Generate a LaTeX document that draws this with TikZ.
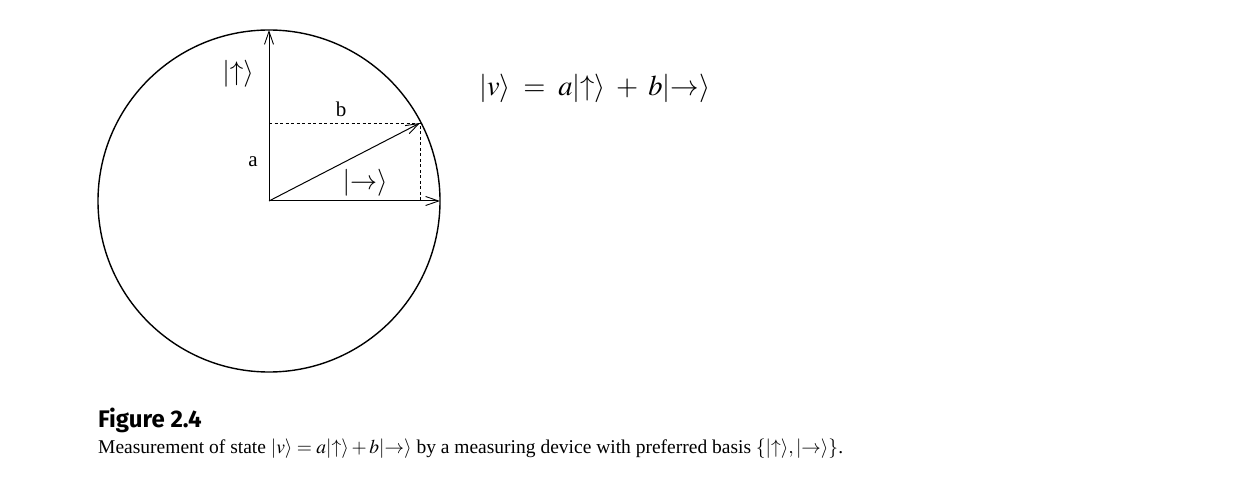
\documentclass[tikz,border=0pt]{standalone}
\usepackage{mathptmx}
\usepackage{fontspec}
\setmainfont{Liberation Serif}
\newfontfamily\figfont{Fira Sans}
\usetikzlibrary{arrows.meta}
\tikzset{
  vec/.style={line width=1pt,-{Straight Barb[length=13pt,width=9pt,line width=0.9pt]}},
  helper/.style={line width=0.9pt,dash pattern=on 3pt off 2.5pt},
  lbl/.style={inner sep=0pt,font=\fontsize{27}{31}\selectfont},
  letter/.style={inner sep=0pt,font=\fontsize{21}{25}\selectfont},
  captxt/.style={inner sep=0pt,anchor=base west,font=\fontsize{19.5}{23}\selectfont}
}
\begin{document}
\begin{tikzpicture}[x=1pt,y=-1pt]
\useasboundingbox (0,0) rectangle (1247,494);
\coordinate (o) at (269,201);
\coordinate (up) at (269,30);
\coordinate (rt) at (440,201);
\coordinate (v) at (420,123);
\coordinate (va) at (269,123);
\coordinate (vb) at (420,201);
\draw[line width=1.4pt] (o) circle[radius=171];
\draw[helper] (va) -- (v) -- (vb);
\draw[vec] (o) -- (up);
\draw[vec] (o) -- (rt);
\draw[vec] (o) -- (v);
\node[lbl] (lup) at (238,74) {$|{\uparrow}\rangle$};
\node[letter] (lb) at (341,109) {b};
\node[letter] (la) at (253,162) {a};
\node[lbl] (lrt) at (365,183) {$|{\rightarrow}\rangle$};
\node[inner sep=0pt,anchor=base west,font=\fontsize{28.5}{32}\selectfont] (eq) at (479,96) {$|v\rangle\;=\;a|{\uparrow}\rangle\;+\;b|{\rightarrow}\rangle$};
\node[captxt,font=\figfont\bfseries\fontsize{24}{28}\selectfont] (fig) at (98,427) {Figure 2.4};
\node[captxt] (caption) at (98,453) {Measurement of state $|v\rangle = a|{\uparrow}\rangle + b|{\rightarrow}\rangle$ by a measuring device with preferred basis $\{|{\uparrow}\rangle, |{\rightarrow}\rangle\}$.};
\end{tikzpicture}
\end{document}
